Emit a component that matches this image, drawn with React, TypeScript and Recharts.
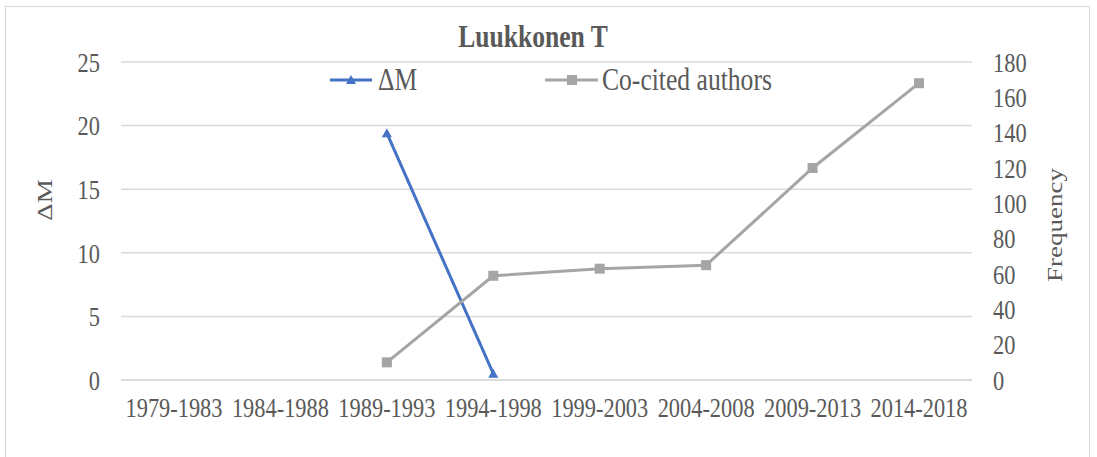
import React from "react"
import { LineChart, Line, XAxis, YAxis, CartesianGrid } from "recharts"

const periods = [
  "1979-1983",
  "1984-1988",
  "1989-1993",
  "1994-1998",
  "1999-2003",
  "2004-2008",
  "2009-2013",
  "2014-2018",
]
const deltaM = [null, null, 19.4, 0.5, null, null, null, null]
const coCited = [null, null, 10, 59, 63, 65, 120, 168]
const leftTicks = [0, 5, 10, 15, 20, 25]
const rightTicks = [0, 20, 40, 60, 80, 100, 120, 140, 160, 180]

const BLUE = "#4472c4"
const GRAY = "#a5a5a5"
const TEXT = "#595959"
const FONT = "'Liberation Serif', 'Times New Roman', serif"
// the source picture is squeezed sideways, so text is drawn narrow
const SQUEEZE = 0.8

const data = periods.map((p, i) => ({
  period: p,
  deltaM: deltaM[i],
  coCited: coCited[i],
}))

function NarrowTick(props: any) {
  const { x, y, payload, anchor, dy } = props
  return (
    <g transform={`translate(${x},${y}) scale(${SQUEEZE},1)`}>
      <text
        x={0}
        y={0}
        dy={dy}
        textAnchor={anchor}
        fontFamily={FONT}
        fontSize={28}
        fill={TEXT}
      >
        {payload.value}
      </text>
    </g>
  )
}

function Triangle(props: any) {
  const { cx, cy, index } = props
  if (cx == null || cy == null || props.value == null) return <g key={index} />
  return (
    <path
      key={index}
      d={`M${cx},${cy - 5} L${cx + 5},${cy + 4} L${cx - 5},${cy + 4} Z`}
      fill={BLUE}
    />
  )
}

function Square(props: any) {
  const { cx, cy, index } = props
  if (cx == null || cy == null || props.value == null) return <g key={index} />
  return <rect key={index} x={cx - 5} y={cy - 5} width={10} height={10} fill={GRAY} />
}

function LegendBox() {
  return (
    <svg
      width={480}
      height={30}
      style={{ position: "absolute", left: 330, top: 65, overflow: "visible" }}
    >
      <line x1={0} y1={15} x2={42} y2={15} stroke={BLUE} strokeWidth={3} />
      <path d="M21,10 L26,19 L16,19 Z" fill={BLUE} />
      <g transform={`translate(48,25) scale(${SQUEEZE},1)`}>
        <text fontFamily={FONT} fontSize={32} fill={TEXT}>
          ΔM
        </text>
      </g>
      <line x1={215} y1={15} x2={268} y2={15} stroke={GRAY} strokeWidth={3} />
      <rect x={237} y={10} width={10} height={10} fill={GRAY} />
      <g transform={`translate(272,25) scale(${SQUEEZE},1)`}>
        <text fontFamily={FONT} fontSize={32} fill={TEXT}>
          Co-cited authors
        </text>
      </g>
    </svg>
  )
}

export default function App() {
  return (
    <div style={{ position: "absolute", left: 0, top: 0, width: 1097, height: 457, background: "#fff" }}>
      <div
        style={{
          position: "absolute",
          left: 5,
          top: 6,
          width: 1085,
          height: 470,
          border: "1.5px solid #d9d9d9",
          boxSizing: "border-box",
        }}
      />
      <div
        style={{
          position: "absolute",
          left: 533,
          top: 36,
          transform: `translate(-50%, -50%) scaleX(${SQUEEZE})`,
          fontFamily: FONT,
          fontWeight: "bold",
          fontSize: 32,
          color: TEXT,
          whiteSpace: "nowrap",
        }}
      >
        Luukkonen T
      </div>
      <div
        style={{
          position: "absolute",
          left: 45,
          top: 200,
          transform: `translate(-50%, -50%) rotate(-90deg) scaleY(${SQUEEZE})`,
          fontFamily: FONT,
          fontSize: 27,
          color: TEXT,
          whiteSpace: "nowrap",
        }}
      >
        ΔM
      </div>
      <div
        style={{
          position: "absolute",
          left: 1055,
          top: 225,
          transform: `translate(-50%, -50%) rotate(-90deg) scaleY(${SQUEEZE})`,
          fontFamily: FONT,
          fontSize: 27,
          color: TEXT,
          whiteSpace: "nowrap",
        }}
      >
        Frequency
      </div>
      <LineChart
        width={1097}
        height={457}
        data={data}
        margin={{ top: 62, right: 65, left: 61, bottom: 37 }}
        style={{ position: "absolute", left: 0, top: 0 }}
      >
        <CartesianGrid vertical={false} yAxisId="left" stroke="#d9d9d9" strokeWidth={1.5} />
        <XAxis
          dataKey="period"
          height={40}
          interval={0}
          padding={{ left: 53, right: 53 }}
          tick={<NarrowTick anchor="middle" dy="0.71em" />}
          tickLine={false}
          tickSize={0}
          tickMargin={17}
          axisLine={{ stroke: "#d9d9d9", strokeWidth: 1.5 }}
        />
        <YAxis
          yAxisId="left"
          width={60}
          domain={[0, 25]}
          ticks={leftTicks}
          tick={<NarrowTick anchor="end" dy="0.35em" />}
          tickLine={false}
          tickSize={0}
          axisLine={false}
          tickMargin={21}
        />
        <YAxis
          yAxisId="right"
          orientation="right"
          width={60}
          domain={[0, 180]}
          ticks={rightTicks}
          tick={<NarrowTick anchor="start" dy="0.35em" />}
          tickLine={false}
          tickSize={0}
          axisLine={false}
          tickMargin={21}
        />
        <Line
          yAxisId="left"
          dataKey="deltaM"
          name="ΔM"
          stroke={BLUE}
          strokeWidth={3}
          dot={<Triangle />}
          connectNulls={false}
          isAnimationActive={false}
        />
        <Line
          yAxisId="right"
          dataKey="coCited"
          name="Co-cited authors"
          stroke={GRAY}
          strokeWidth={3}
          dot={<Square />}
          isAnimationActive={false}
        />
      </LineChart>
      <LegendBox />
    </div>
  )
}
